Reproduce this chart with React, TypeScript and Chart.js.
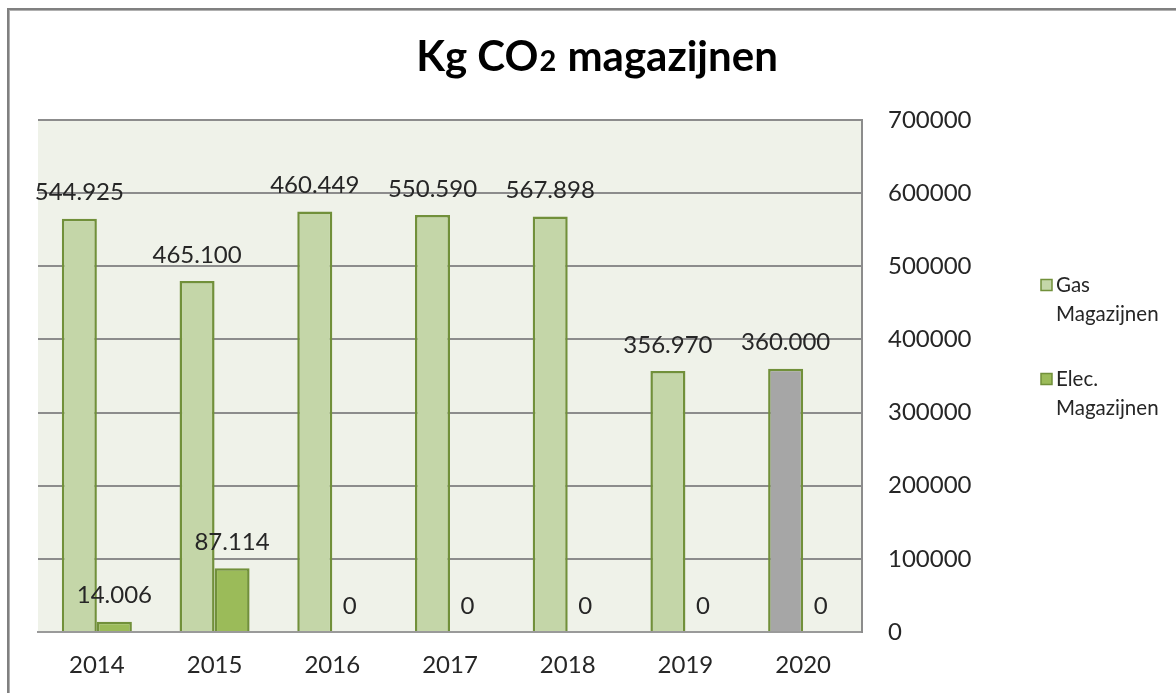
import { useEffect, useRef } from "react";
import { Chart, registerables } from "chart.js";

Chart.register(...registerables);

// ---- data ----
const years = ["2014", "2015", "2016", "2017", "2018", "2019", "2020"];
const gasValues = [565000, 480000, 575000, 570000, 567898, 356970, 360000];
const elecValues = [14006, 87114, 0, 0, 0, 0, 0];
const gasLabels = ["544.925", "465.100", "460.449", "550.590", "567.898", "356.970", "360.000"];
const elecLabels = ["14.006", "87.114", "0", "0", "0", "0", "0"];
const seriesNames = [
  ["Gas", "Magazijnen"],
  ["Elec.", "Magazijnen"],
];
const titleParts = ["Kg CO", "2", " magazijnen"];
const yMin = 0;
const yMax = 700000;
const yStep = 100000;

// ---- styles ----
const GAS_FILL = "#c4d6a8";
const GAS_2020_FILL = "#a6a6a6";
const ELEC_FILL = "#9bbb59";
const BAR_BORDER = "#71903a";
const PLOT_BG = "#eff2e9";
const GRID = "#8c8c8c";
const TEXT = "#262626";
const FONT = "Lato, 'Open Sans', sans-serif";

const gasFills = years.map((y) => (y === "2020" ? GAS_2020_FILL : GAS_FILL));

const backgroundPlugin = {
  id: "bgPlugin",
  beforeDraw(chart: any) {
    const { ctx, chartArea } = chart;
    ctx.save();
    ctx.fillStyle = "#ffffff";
    ctx.fillRect(0, 0, chart.width, chart.height);
    ctx.fillStyle = PLOT_BG;
    ctx.fillRect(chartArea.left, chartArea.top, chartArea.right - chartArea.left, chartArea.bottom - chartArea.top);
    // outer frame
    ctx.fillStyle = "#808080";
    ctx.fillRect(7, 8, 2, chart.height - 8);
    ctx.fillRect(7, 8, chart.width - 7, 2);
    ctx.fillStyle = "#b0b0b0";
    ctx.fillRect(9, 10, 1, chart.height - 10);
    ctx.fillRect(9, 10, chart.width - 9, 1);
    ctx.restore();
  },
};

const labelsPlugin = {
  id: "valueLabels",
  afterDatasetsDraw(chart: any) {
    const ctx = chart.ctx;
    ctx.save();
    ctx.font = `24px ${FONT}`;
    ctx.fillStyle = TEXT;
    ctx.textAlign = "center";
    ctx.textBaseline = "middle";
    [gasLabels, elecLabels].forEach((labels, di) => {
      const meta = chart.getDatasetMeta(di);
      meta.data.forEach((bar: any, i: number) => {
        ctx.fillText(labels[i], bar.x, bar.y - 26);
      });
    });
    ctx.restore();
  },
};

const titlePlugin = {
  id: "customTitle",
  afterDraw(chart: any) {
    const ctx = chart.ctx;
    ctx.save();
    ctx.fillStyle = "#000000";
    ctx.textBaseline = "alphabetic";
    ctx.textAlign = "left";
    const bigFont = `bold 42px ${FONT}`;
    const smallFont = `bold 29px ${FONT}`;
    ctx.font = bigFont;
    const w1 = ctx.measureText(titleParts[0]).width;
    const w3 = ctx.measureText(titleParts[2]).width;
    ctx.font = smallFont;
    const w2 = ctx.measureText(titleParts[1]).width;
    const total = w1 + w2 + w3 + 2;
    let x = 597 - total / 2;
    const y = 71;
    ctx.font = bigFont;
    ctx.fillText(titleParts[0], x, y);
    x += w1 + 1;
    ctx.font = smallFont;
    ctx.fillText(titleParts[1], x, y);
    x += w2 + 1;
    ctx.font = bigFont;
    ctx.fillText(titleParts[2], x, y);
    ctx.restore();
  },
};

const legendPlugin = {
  id: "customLegend",
  afterDraw(chart: any) {
    const ctx = chart.ctx;
    const fills = [GAS_FILL, ELEC_FILL];
    const x0 = 1041;
    const tops = [285, 379];
    ctx.save();
    ctx.font = `20.5px ${FONT}`;
    ctx.fillStyle = TEXT;
    ctx.textAlign = "left";
    ctx.textBaseline = "middle";
    seriesNames.forEach((lines, i) => {
      const yc = tops[i];
      ctx.fillStyle = fills[i];
      ctx.fillRect(x0, yc - 5.5, 11, 11);
      ctx.strokeStyle = BAR_BORDER;
      ctx.lineWidth = 1.5;
      ctx.strokeRect(x0, yc - 5.5, 11, 11);
      ctx.fillStyle = TEXT;
      lines.forEach((line, li) => {
        ctx.fillText(line, x0 + 15, yc + li * 29);
      });
    });
    ctx.restore();
  },
};

export default function App() {
  const canvasRef = useRef<HTMLCanvasElement | null>(null);

  useEffect(() => {
    if (!canvasRef.current) return;
    const chart = new Chart(canvasRef.current, {
      type: "bar",
      data: {
        labels: years,
        datasets: [
          {
            label: seriesNames[0].join(" "),
            data: gasValues,
            backgroundColor: gasFills,
            borderColor: BAR_BORDER,
            borderWidth: 2.5,
          },
          {
            label: seriesNames[1].join(" "),
            data: elecValues,
            backgroundColor: ELEC_FILL,
            borderColor: BAR_BORDER,
            borderWidth: (c: any) => (c.raw === 0 ? 0 : 2.5),
          },
        ],
      },
      options: {
        responsive: false,
        animation: false,
        devicePixelRatio: 1,
        layout: { padding: { left: 38, top: 120, right: 0, bottom: 0 } },
        datasets: {
          bar: { categoryPercentage: 0.595, barPercentage: 1 },
        },
        plugins: {
          legend: { display: false },
          title: { display: false },
          tooltip: { enabled: false },
        },
        scales: {
          x: {
            grid: { display: false, drawTicks: false },
            border: { display: true, color: "#9a9a9a", width: 2 },
            ticks: { font: { family: FONT, size: 24 }, color: TEXT, padding: 19 },
            afterFit: (axis: any) => {
              axis.height = 61;
            },
          },
          y: {
            position: "right",
            min: yMin,
            max: yMax,
            ticks: {
              stepSize: yStep,
              font: { family: FONT, size: 24 },
              color: TEXT,
              padding: 26,
              callback: (v: any) => String(v),
            },
            grid: { color: GRID, lineWidth: 2, drawTicks: false },
            border: { display: true, color: GRID, width: 2 },
            afterFit: (axis: any) => {
              axis.width = 314;
            },
          },
        },
      },
      plugins: [backgroundPlugin, labelsPlugin, titlePlugin, legendPlugin],
    });
    return () => chart.destroy();
  }, []);

  return (
    <div style={{ position: "absolute", left: 0, top: 0, width: 1176, height: 693 }}>
      <canvas ref={canvasRef} width={1176} height={693} style={{ display: "block" }} />
    </div>
  );
}
